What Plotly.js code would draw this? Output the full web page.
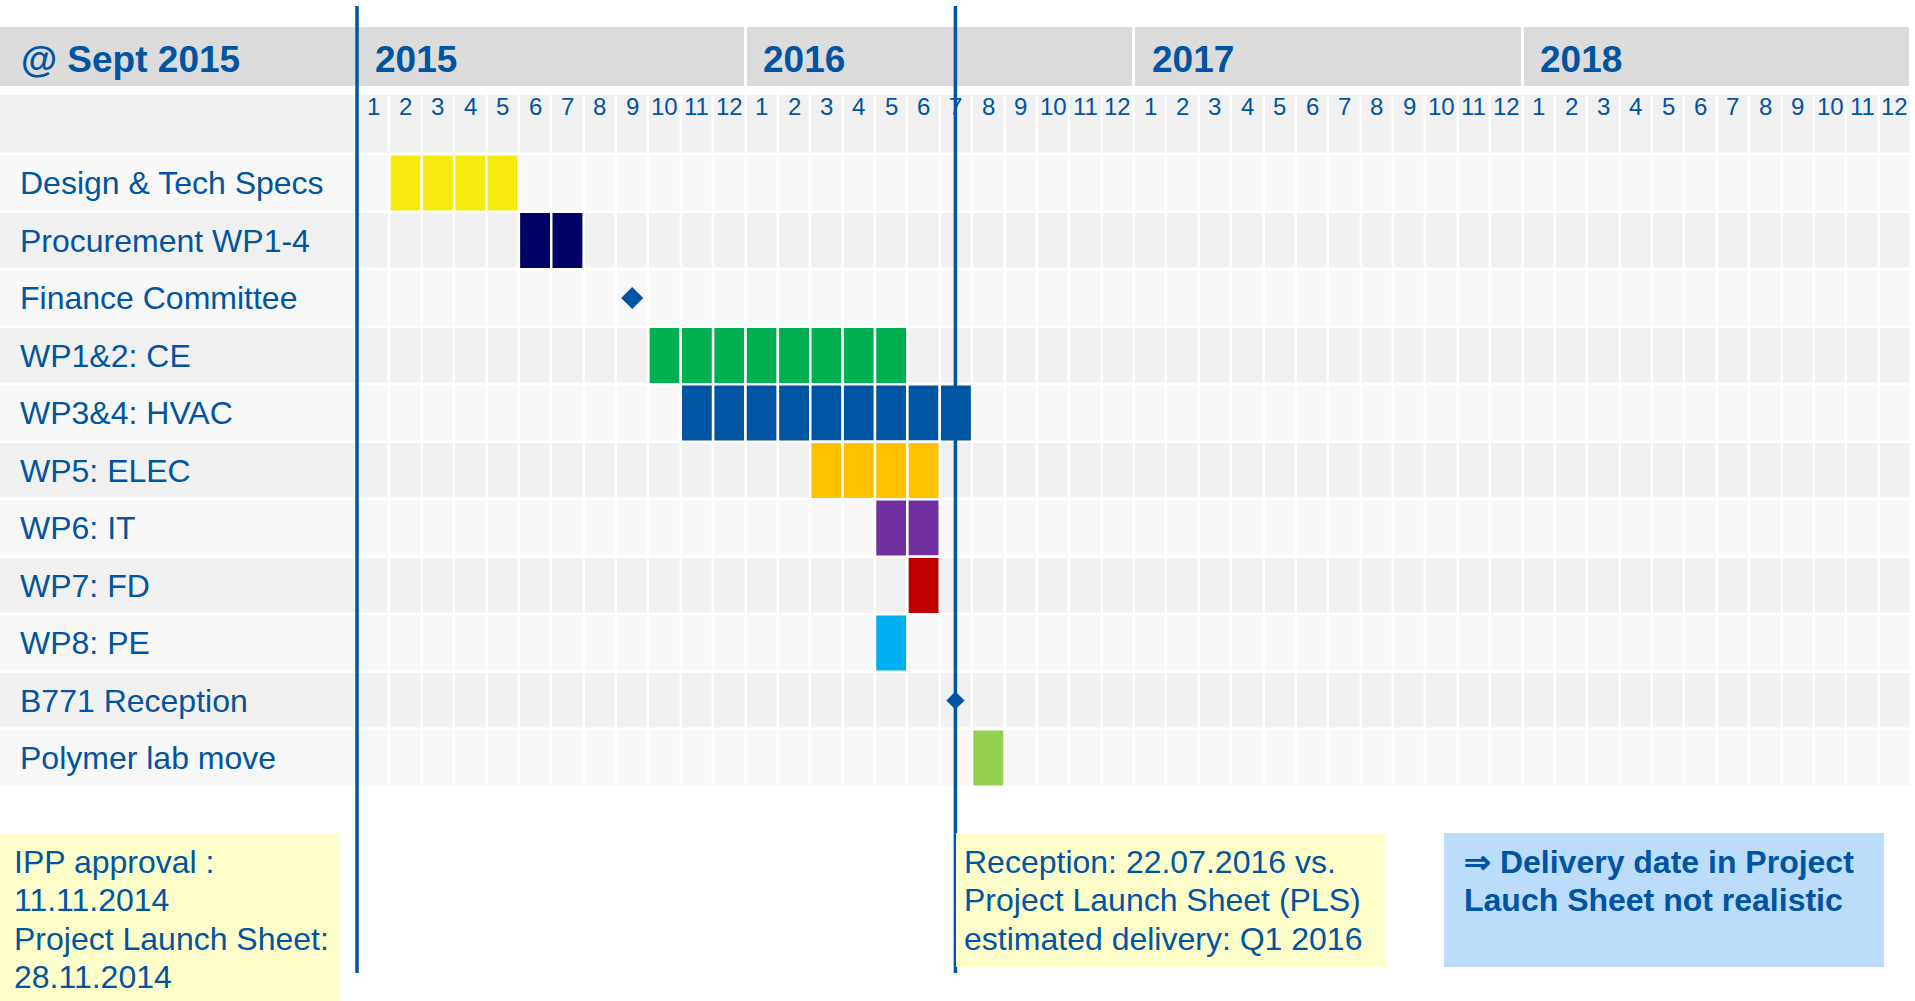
<!DOCTYPE html>
<html><head><meta charset="utf-8">
<script src="https://cdn.plot.ly/plotly-3.0.1.min.js"></script>
<style>html,body{margin:0;padding:0;background:#fff;overflow:hidden}#chart{width:1915px;height:1001px}</style>
</head><body><div id="chart"></div>
<script>
// ---------- data ----------
const headerLabel = '@ Sept 2015';
const years = ['2015', '2016', '2017', '2018'];
const monthLabels = ['1','2','3','4','5','6','7','8','9','10','11','12'];
const tasks = ['Design & Tech Specs', 'Procurement WP1-4', 'Finance Committee', 'WP1&2: CE', 'WP3&4: HVAC',
               'WP5: ELEC', 'WP6: IT', 'WP7: FD', 'WP8: PE', 'B771 Reception', 'Polymer lab move'];
const barTasks = ['Design & Tech Specs', 'Procurement WP1-4', 'WP1&2: CE', 'WP3&4: HVAC', 'WP5: ELEC',
                  'WP6: IT', 'WP7: FD', 'WP8: PE', 'Polymer lab move'];
const barStarts = ['2015-02', '2015-06', '2015-10', '2015-11', '2016-03', '2016-05', '2016-06', '2016-05', '2016-08'];
const barDurations = [4, 2, 8, 9, 4, 2, 1, 1, 1];
const barColors = ['#f6eb0c', '#000066', '#00b050', '#0055a2', '#ffc000', '#7030a0', '#c00000', '#00b0f0', '#92d050'];
const milestoneTasks = ['Finance Committee', 'B771 Reception'];
const milestoneDates = ['2015-09-16', '2016-07-16'];
const lineDates = ['2015-01-01', '2016-07-16'];
const noteLeft = ['IPP approval :', '11.11.2014', 'Project Launch Sheet:', '28.11.2014'];
const noteMiddle = ['Reception: 22.07.2016 vs.', 'Project Launch Sheet (PLS)', 'estimated delivery: Q1 2016'];
const noteRight = ['\u21D2 Delivery date in Project', 'Lauch Sheet not realistic'];

// ---------- helpers ----------
const BLUE = '#0054a2';
const FONT = 'Liberation Sans, Arial, Helvetica, sans-serif';
const firstYear = parseInt(years[0], 10);
function monthIndex(s) {
  const p = s.split('-').map(Number);
  let idx = (p[0] - firstYear) * 12 + (p[1] - 1);
  if (p.length > 2) {
    const dim = new Date(p[0], p[1], 0).getDate();
    idx += (p[2] - 1) / dim;
  }
  return idx;
}
const nMonths = years.length * 12;
const PX = 32.375, X0PX = 357;      // pixel geometry of the month grid
const PY = 57.5, Y0PX = 183;        // pixel geometry of task rows
const W = 1915, H = 1001;
const yOf = px => (px - Y0PX) / PY;
const xOf = px => (px - X0PX) / PX;

const traces = [];

// background grid (month header row + task rows), label column included
const gridX = [xOf(-3)];
for (let i = 0; i <= nMonths; i++) gridX.push(i);
const gridY = [yOf(94)];
for (let r = 0; r <= tasks.length; r++) gridY.push(r - 0.5);
const gridZ = [];
gridZ.push(new Array(nMonths + 1).fill(1));
tasks.forEach((t, r) => gridZ.push(new Array(nMonths + 1).fill(r % 2 === 0 ? 0 : 1)));
traces.push({
  type: 'heatmap', x: gridX, y: gridY, z: gridZ, zmin: 0, zmax: 1,
  colorscale: [[0, '#f8f8f8'], [1, '#f1f1f1']], showscale: false,
  xgap: 2.5, ygap: 2.5, hoverinfo: 'skip'
});

// year header row
const yearX = [xOf(-3), 0];
years.forEach((y, i) => yearX.push((i + 1) * 12));
traces.push({
  type: 'heatmap', x: yearX, y: [yOf(27), yOf(86)], z: [new Array(years.length + 1).fill(0)],
  zmin: 0, zmax: 1, colorscale: [[0, '#dcdcdc'], [1, '#dcdcdc']], showscale: false,
  xgap: 3, ygap: 0, hoverinfo: 'skip'
});

// task bars, one cell per month
barTasks.forEach((name, i) => {
  const row = tasks.indexOf(name);
  const s = monthIndex(barStarts[i]);
  const base = [], len = [], ys = [];
  for (let k = 0; k < barDurations[i]; k++) { base.push(s + k); len.push(1); ys.push(row); }
  traces.push({
    type: 'bar', orientation: 'h', y: ys, x: len, base: base, width: 1,
    marker: { color: barColors[i], line: { color: '#ffffff', width: 2.5 } },
    hoverinfo: 'skip', name: name
  });
});

// vertical date lines
const lx = [], ly = [];
lineDates.forEach(d => { const m = monthIndex(d); lx.push(m, m, null); ly.push(yOf(6), yOf(973), null); });
traces.push({ type: 'scatter', mode: 'lines', x: lx, y: ly, line: { color: BLUE, width: 3.5 }, hoverinfo: 'skip' });

// milestones
const milestoneSizes = [17, 14];
milestoneTasks.forEach((t, i) => traces.push({
  type: 'scatter', mode: 'markers',
  x: [monthIndex(milestoneDates[i])], y: [tasks.indexOf(t)],
  marker: { symbol: 'diamond', size: milestoneSizes[i], color: BLUE, opacity: 1, line: { width: 0 } },
  hoverinfo: 'skip'
}));

// ---------- annotations ----------
const ann = [];
ann.push({ x: xOf(19), y: yOf(59), xref: 'x', yref: 'y', xanchor: 'left', yanchor: 'middle', showarrow: false,
  text: '<b>' + headerLabel + '</b>', font: { family: FONT, size: 37, color: BLUE } });
years.forEach((y, i) => ann.push({ x: i * 12 + 15.5 / PX, y: yOf(59), xref: 'x', yref: 'y', xanchor: 'left', yanchor: 'middle',
  showarrow: false, text: '<b>' + y + '</b>', font: { family: FONT, size: 37, color: BLUE } }));
for (let i = 0; i < nMonths; i++) ann.push({ x: i + 0.5, y: yOf(106), xref: 'x', yref: 'y', xanchor: 'center', yanchor: 'middle',
  showarrow: false, text: monthLabels[i % 12], font: { family: FONT, size: 24, color: BLUE } });
tasks.forEach((t, r) => ann.push({ x: xOf(17.5), y: r, xref: 'x', yref: 'y', xanchor: 'left', yanchor: 'middle',
  showarrow: false, text: t, font: { family: FONT, size: 32, color: BLUE } }));

function note(lines, xpx, ypx, bold) {
  lines.forEach((ln, k) => ann.push({ x: xpx / W, y: 1 - (ypx + k * 38.4) / H, xref: 'paper', yref: 'paper',
    xanchor: 'left', yanchor: 'middle', align: 'left', showarrow: false,
    text: bold ? '<b>' + ln + '</b>' : ln, font: { family: FONT, size: 32, color: BLUE } }));
}
note(noteLeft, 12, 862, false);
note(noteMiddle, 962, 862, false);
note(noteRight, 1462, 862, true);

const shapes = [
  { type: 'rect', xref: 'paper', yref: 'paper', x0: 0, x1: 340 / W, y0: 0, y1: 1 - 833 / H, fillcolor: '#ffffcc', line: { width: 0 }, layer: 'above' },
  { type: 'rect', xref: 'paper', yref: 'paper', x0: 956 / W, x1: 1385 / W, y0: 1 - 967 / H, y1: 1 - 833 / H, fillcolor: '#ffffcc', line: { width: 0 }, layer: 'above' },
  { type: 'rect', xref: 'paper', yref: 'paper', x0: 1444 / W, x1: 1884 / W, y0: 1 - 967 / H, y1: 1 - 833 / H, fillcolor: '#bcdcfc', line: { width: 0 }, layer: 'above' }
];

const layout = {
  width: W, height: H, margin: { l: 0, r: 0, t: 0, b: 0, pad: 0 },
  paper_bgcolor: '#ffffff', plot_bgcolor: '#ffffff', showlegend: false, barmode: 'overlay',
  xaxis: { range: [xOf(0), xOf(W)], visible: false, fixedrange: true },
  yaxis: { range: [yOf(H), yOf(0)], visible: false, fixedrange: true },
  annotations: ann, shapes: shapes, font: { family: FONT }
};
Plotly.newPlot('chart', traces, layout, { displayModeBar: false, staticPlot: true });
</script></body></html>
